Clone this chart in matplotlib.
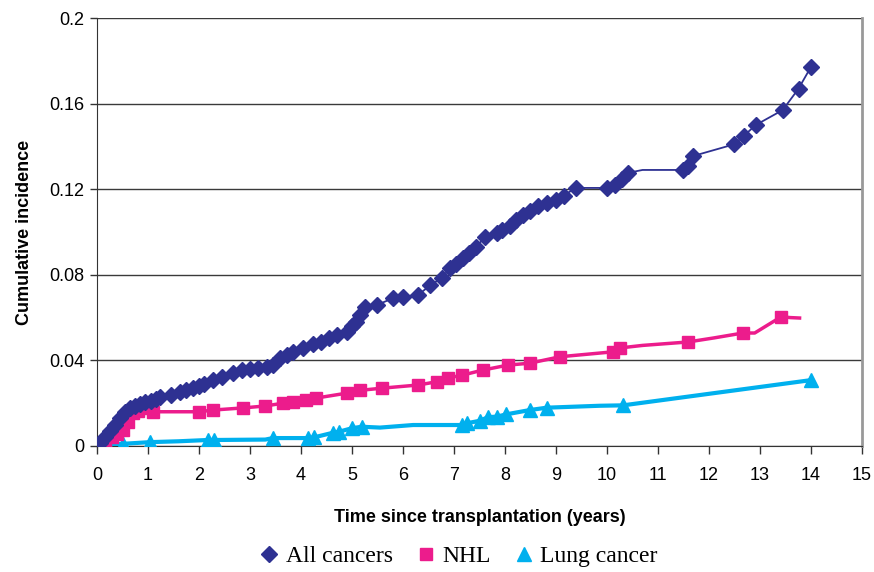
import matplotlib
matplotlib.use('Agg')
import matplotlib.pyplot as plt
import numpy as np

# data
all_x = [0, 0.06, 0.15, 0.25, 0.35, 0.45, 0.55, 0.65, 0.75, 0.85, 0.94, 1.05, 1.15, 1.24,
         1.45, 1.63, 1.75, 1.89, 2.0, 2.1, 2.28, 2.45, 2.67, 2.85, 3.0, 3.15, 3.33, 3.45,
         3.59, 3.72, 3.85, 4.05, 4.24, 4.4, 4.55, 4.7, 4.9, 5.0, 5.08, 5.15, 5.25, 5.5,
         5.8, 6.0, 6.3, 6.53, 6.76, 6.92, 7.05, 7.18, 7.3, 7.44, 7.61, 7.84, 7.95, 8.1,
         8.22, 8.36, 8.5, 8.65, 8.82, 9.0, 9.15, 9.39, 10.0, 10.16, 10.3, 10.41, 10.7,
         11.5, 11.6, 11.69, 12.5, 12.69, 12.92, 13.45, 13.76, 14.0]
all_y = [0, 0.0014, 0.004, 0.007, 0.010, 0.013, 0.016, 0.0178, 0.0188, 0.0198, 0.0207, 0.0212, 0.022, 0.023,
         0.0238, 0.0254, 0.026, 0.027, 0.028, 0.029, 0.031, 0.0322, 0.034, 0.0355, 0.036, 0.0365, 0.0368, 0.038,
         0.041, 0.0425, 0.044, 0.046, 0.0475, 0.0488, 0.0505, 0.052, 0.0534, 0.056, 0.058, 0.061, 0.065, 0.066,
         0.069, 0.0698, 0.0706, 0.075, 0.0785, 0.083, 0.085, 0.0878, 0.090, 0.093, 0.0978, 0.0995, 0.101, 0.103,
         0.1055, 0.108, 0.110, 0.112, 0.1134, 0.115, 0.117, 0.1206, 0.1206, 0.122, 0.125, 0.1276, 0.129,
         0.129, 0.131, 0.1355, 0.141, 0.145, 0.150, 0.157, 0.167, 0.177]
all_nomark = [68]

nhl_x = [0, 0.15, 0.3, 0.4, 0.5, 0.6, 0.7, 0.8, 0.9, 1.1, 2.0, 2.28, 2.87, 3.3, 3.65,
         3.85, 4.1, 4.3, 4.9, 5.16, 5.58, 6.3, 6.66, 6.88, 7.15, 7.57, 8.06, 8.49, 9.08,
         10.12, 10.25, 10.7, 11.59, 12.1, 12.67, 12.9, 13.42, 13.6, 13.78]
nhl_y = [0, 0.0014, 0.004, 0.0055, 0.0075, 0.011, 0.0154, 0.0165, 0.0178, 0.016, 0.016, 0.0168, 0.0178, 0.0187, 0.020,
         0.0205, 0.0215, 0.0224, 0.0247, 0.026, 0.027, 0.0285, 0.030, 0.0318, 0.033, 0.0355, 0.0378, 0.0387, 0.0417,
         0.044, 0.0458, 0.047, 0.0486, 0.0505, 0.0528, 0.0528, 0.0604, 0.060, 0.0598]
nhl_nomark = [31, 33, 35, 37, 38]

lung_x = [0, 0.2, 0.5, 1.04, 1.6, 2.17, 2.3, 3.3, 3.45, 4.14, 4.25, 4.63, 4.75, 5.0,
          5.19, 5.55, 6.2, 7.15, 7.25, 7.51, 7.67, 7.84, 8.03, 8.49, 8.82, 9.86, 10.32, 14.01]
lung_y = [0, 0.0005, 0.001, 0.0018, 0.0022, 0.0028, 0.0028, 0.003, 0.0037, 0.0037, 0.004, 0.0062, 0.0067, 0.0083,
          0.009, 0.0086, 0.0098, 0.0098, 0.0106, 0.0118, 0.0135, 0.0137, 0.0148, 0.0168, 0.0179, 0.0188, 0.019, 0.0308]
lung_nomark = [4, 7, 15, 16, 25]

xticks = list(range(0, 16))
yticks = [0, 0.04, 0.08, 0.12, 0.16, 0.2]
ytick_labels = ['0', '0.04', '0.08', '0.12', '0.16', '0.2']

navy = '#2E3192'
pink = '#EC1C8C'
cyan = '#00B0EE'


def marks(n, skip):
    return [i for i in range(n) if i not in skip]


fig = plt.figure(figsize=(8.74, 5.72), dpi=100)
ax = fig.add_axes([0.111, 0.2203, 0.875, 0.7482])

ax.plot(lung_x, lung_y, color=cyan, lw=3, marker='^', ms=10, mec=cyan,
        markevery=marks(len(lung_x), lung_nomark), label='Lung cancer', zorder=3)
ax.plot(nhl_x, nhl_y, color=pink, lw=2.5, marker='s', ms=8.5, mec=pink,
        markevery=marks(len(nhl_x), nhl_nomark), label='NHL', zorder=4)
ax.plot(all_x, all_y, color=navy, lw=1.3, marker='D', ms=8, mec=navy,
        markevery=marks(len(all_x), all_nomark), label='All cancers', zorder=5)

ax.set_xlim(0, 15)
ax.set_ylim(0, 0.2)
ax.set_xticks(xticks)
ax.set_yticks(yticks)
ax.set_yticklabels(ytick_labels)

tickfont = ['Liberation Sans Narrow', 'Liberation Sans']
for lab in ax.get_xticklabels() + ax.get_yticklabels():
    lab.set_family(tickfont)
    lab.set_fontsize(13)
ax.tick_params(axis='x', direction='out', length=6, width=1, pad=9, color='#333333')
ax.tick_params(axis='y', direction='out', length=5, width=1, pad=4, color='#333333')

ax.yaxis.grid(True, color='#3a3a3a', lw=1)
ax.set_axisbelow(True)
ax.spines['top'].set_visible(False)
ax.spines['right'].set_color('#999999')
ax.spines['right'].set_linewidth(2)
ax.spines['left'].set_color('#333333')
ax.spines['bottom'].set_color('#333333')

ax.set_xlabel('Time since transplantation (years)', fontsize=13, fontweight='bold',
              family=tickfont, labelpad=18)
ax.set_ylabel('Cumulative incidence', fontsize=13, fontweight='bold',
              family=tickfont, labelpad=12)

handles, labels = ax.get_legend_handles_labels()
order = [2, 1, 0]
leg = fig.legend([handles[i] for i in order], [labels[i] for i in order],
                 loc='center', bbox_to_anchor=(0.525, 0.027), ncol=3, frameon=False,
                 prop={'family': 'Liberation Serif', 'size': 17},
                 handlelength=0.8, handletextpad=0.3, columnspacing=1.0)
for h in leg.legend_handles:
    h.set_linestyle('none')

fig.savefig('out.png', dpi=100)
